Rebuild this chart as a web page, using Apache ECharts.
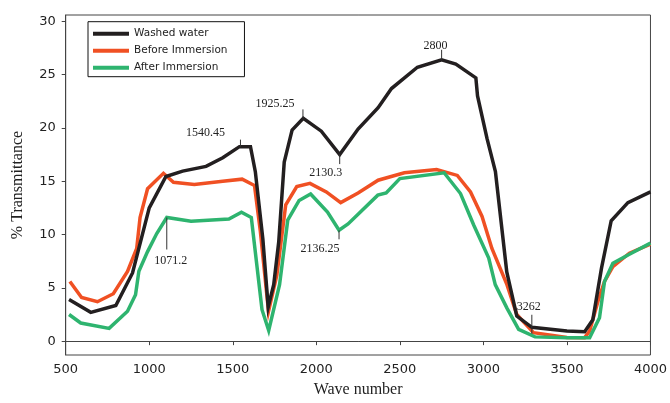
<!DOCTYPE html>
<html>
<head>
<meta charset="utf-8">
<script src="https://cdn.jsdelivr.net/npm/echarts@6/dist/echarts.min.js"></script>
<style>html,body{margin:0;padding:0;background:#fff}#c{width:670px;height:403px}</style>
</head>
<body>
<div id="c"></div>
<script>
// ---- data ----
const seriesNames = ['Washed water', 'Before Immersion', 'After Immersion'];
const washedWater = [[520,3.9],[650,2.7],[800,3.35],[900,6.4],[1000,12.5],[1100,15.45],[1200,15.95],[1340,16.4],[1440,17.2],[1540,18.25],[1606,18.25],[1635,15.9],[1680,9.6],[1712,3.2],[1745,5.3],[1775,9.3],[1808,16.8],[1855,19.8],[1922,20.9],[2030,19.7],[2140,17.5],[2250,19.9],[2370,21.9],[2450,23.7],[2605,25.7],[2750,26.4],[2835,26.0],[2955,24.7],[2965,23.0],[3022,19.0],[3072,15.9],[3140,6.5],[3200,2.35],[3290,1.3],[3500,0.95],[3606,0.88],[3655,2.0],[3707,6.85],[3765,11.3],[3865,13.0],[4000,14.0]];
const beforeImmersion = [[525,5.6],[595,4.1],[690,3.7],[785,4.45],[870,6.55],[925,8.7],[945,11.6],[990,14.3],[1085,15.75],[1145,14.9],[1270,14.7],[1440,15.0],[1556,15.2],[1630,14.6],[1665,10.3],[1714,2.8],[1764,6.2],[1817,12.8],[1883,14.5],[1962,14.8],[2060,14.0],[2146,13.0],[2250,13.9],[2370,15.1],[2527,15.8],[2720,16.1],[2844,15.55],[2923,14.0],[2992,11.7],[3051,8.7],[3141,5.3],[3200,2.5],[3300,0.8],[3500,0.35],[3606,0.33],[3636,0.95],[3686,3.75],[3725,5.6],[3775,7.0],[3874,8.25],[4000,9.1]];
const afterImmersion = [[520,2.5],[590,1.7],[760,1.2],[870,2.8],[918,4.35],[938,6.55],[990,8.4],[1045,10.1],[1105,11.6],[1250,11.25],[1477,11.45],[1552,12.1],[1611,11.6],[1675,2.95],[1715,1.0],[1780,5.3],[1829,11.35],[1897,13.2],[1966,13.8],[2067,12.1],[2136,10.4],[2190,11.0],[2368,13.7],[2418,13.9],[2500,15.25],[2765,15.8],[2863,13.85],[2942,10.9],[3032,7.8],[3071,5.3],[3141,3.1],[3211,1.1],[3309,0.4],[3500,0.33],[3636,0.33],[3695,2.2],[3725,5.6],[3775,7.3],[3874,8.15],[4000,9.2]];
const xTicks = [500,1000,1500,2000,2500,3000,3500,4000];
const yTicks = [0,5,10,15,20,25,30];
const annotLabels = ['1540.45','1925.25','2130.3','2800','1071.2','2136.25','3262'];
const annotX = [1546,1920,2140,2750,1105,2136,3290];
const annotY = [18.25,20.9,17.55,26.4,11.6,10.4,1.35];
// ---- styles (pixel offsets for annotation ticks/labels) ----
const annotStyle = [
  {t0:0,t1:-7,dx:-35,dy:-14},
  {t0:0,t1:-9,dx:-28,dy:-15},
  {t0:0,t1:10,dx:-14,dy:19},
  {t0:0,t1:-10,dx:-6,dy:-14},
  {t0:0,t1:32,dx:4,dy:43},
  {t0:0,t1:9,dx:-19,dy:19},
  {t0:-12,t1:7,dx:-3,dy:-20}
];
const colors = {'Washed water':'#231F20','Before Immersion':'#F05023','After Immersion':'#2EB46F'};

const chart = echarts.init(document.getElementById('c'));
const annotData = annotLabels.map((t,i)=>[annotX[i],annotY[i],i]);
function lineSeries(name, data, z){
  return {name, type:'line', data, showSymbol:false, symbol:'none', z,
    lineStyle:{width:3.5, color:colors[name], join:'miter'}, itemStyle:{color:colors[name]}};
}
chart.setOption({
  animation:false,
  backgroundColor:'#fff',
  grid:{left:65.7, right:15.5, top:15, bottom:45.7, show:true, borderColor:'#444', borderWidth:1, backgroundColor:'transparent'},
  legend:{
    data:seriesNames, orient:'vertical', left:88, top:21.7,
    padding:[6,17,3,5], itemGap:5, itemWidth:36, itemHeight:4,
    icon:'rect', borderColor:'#111', borderWidth:1,
    textStyle:{fontFamily:'DejaVu Sans', fontSize:10.5, color:'#222', lineHeight:12},
  },
  xAxis:{type:'value', min:500, max:4000, interval:500,
    name:'Wave number', nameLocation:'middle', nameGap:27,
    nameTextStyle:{fontFamily:'Liberation Serif', fontSize:16, color:'#222'},
    axisLine:{lineStyle:{color:'#444', width:1}},
    axisTick:{show:true, length:4, lineStyle:{color:'#444'}, customValues:xTicks},
    axisLabel:{fontFamily:'DejaVu Sans', fontSize:13, color:'#222', margin:8, customValues:xTicks, formatter:v=>String(v)},
    splitLine:{show:false}},
  yAxis:{type:'value', min:-1.3, max:30.6,
    name:'% Transmittance', nameLocation:'middle', nameGap:40, nameRotate:90,
    nameTextStyle:{fontFamily:'Liberation Serif', fontSize:16, color:'#222'},
    axisLine:{show:true, lineStyle:{color:'#444', width:1}},
    axisTick:{show:true, length:4, lineStyle:{color:'#444'}, customValues:yTicks},
    axisLabel:{fontFamily:'DejaVu Sans', fontSize:13, color:'#222', margin:10, customValues:yTicks, formatter:v=>String(v)},
    splitLine:{show:false}},
  series:[
    lineSeries('Before Immersion', beforeImmersion, 2),
    lineSeries('After Immersion', afterImmersion, 3),
    lineSeries('Washed water', washedWater, 4),
    {type:'custom', z:10, data:annotData, silent:true,
     renderItem:function(params, api){
       const p = api.coord([api.value(0), api.value(1)]);
       const i = api.value(2);
       const s = annotStyle[i];
       return {type:'group', children:[
         {type:'line', shape:{x1:p[0], y1:p[1]+s.t0, x2:p[0], y2:p[1]+s.t1}, style:{stroke:'#333', lineWidth:1}},
         {type:'text', x:p[0]+s.dx, y:p[1]+s.dy, style:{text:annotLabels[i], fill:'#222', font:'12px "Liberation Serif"', align:'center', verticalAlign:'middle'}}
       ]};
     }}
  ]
});
</script>
</body>
</html>
